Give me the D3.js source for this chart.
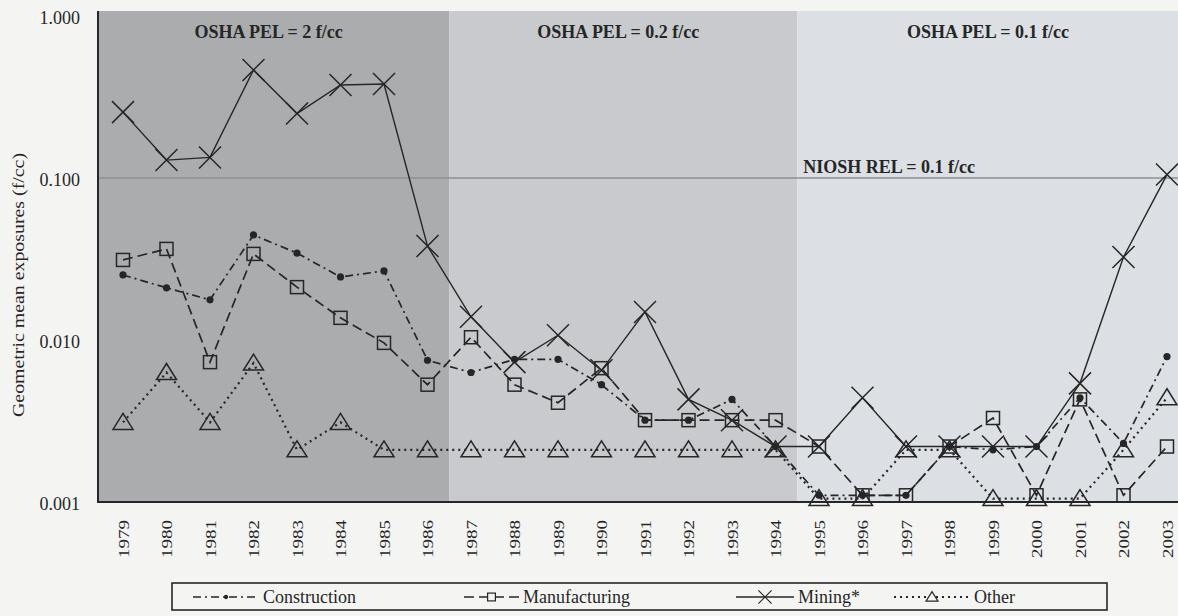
<!DOCTYPE html>
<html>
<head>
<meta charset="utf-8">
<script src="https://cdn.jsdelivr.net/npm/d3@7"></script>
<style>
  html, body { margin: 0; padding: 0; background: #f4f5f3; }
  svg { display: block; font-family: "Liberation Serif", "DejaVu Serif", serif; }
</style>
</head>
<body>
<svg id="chart" width="1178" height="616"></svg>
<script>
// data
var years = ['1979', '1980', '1981', '1982', '1983', '1984', '1985', '1986', '1987', '1988', '1989', '1990',
    '1991', '1992', '1993', '1994', '1995', '1996', '1997', '1998', '1999', '2000', '2001', '2002', '2003'];

var construction = [0.0252, 0.021, 0.0177, 0.0445, 0.0344, 0.0245, 0.0267, 0.0075, 0.0063, 0.0076, 0.0076, 0.0053,
    0.0032, 0.0032, 0.0043, 0.0022, 0.0011, 0.0011, 0.0011, 0.0022, 0.0021, 0.0022, 0.0044, 0.0023, 0.0079];
var manufacturing = [0.0312, 0.0365, 0.0073, 0.034, 0.0212, 0.0137, 0.0096, 0.0053, 0.0104, 0.0053, 0.0041, 0.0067,
    0.0032, 0.0032, 0.0032, 0.0032, 0.0022, 0.0011, 0.0011, 0.0022, 0.0033, 0.0011, 0.0043, 0.0011, 0.0022];
var mining = [0.255, 0.129, 0.134, 0.464, 0.25, 0.375, 0.38, 0.038, 0.0139, 0.0073, 0.0107, 0.0065,
    0.0149, 0.0043, 0.0032, 0.0022, 0.0022, 0.0044, 0.0022, 0.0022, 0.0022, 0.0022, 0.0054, 0.0325, 0.105];
var other = [0.0031, 0.0063, 0.0031, 0.0072, 0.0021, 0.0031, 0.0021, 0.0021, 0.0021, 0.0021, 0.0021, 0.0021,
    0.0021, 0.0021, 0.0021, 0.0021, 0.00105, 0.00105, 0.0021, 0.0021, 0.00105, 0.00105, 0.00105, 0.0021, 0.0044];

var yTicks = [0.001, 0.01, 0.1, 1];

// regulatory periods: first year, last year, label
var periods = [
    {from: '1979', to: '1986', label: 'OSHA PEL = 2 f/cc', fill: '#abacad'},
    {from: '1987', to: '1994', label: 'OSHA PEL = 0.2 f/cc', fill: '#c8cacd'},
    {from: '1995', to: '2003', label: 'OSHA PEL = 0.1 f/cc', fill: '#dce0e5'}
];
var nioshRel = 0.1;

var series = [
    {name: 'Construction', values: construction, dash: '8,4,2,4', width: 1.7, marker: 'dot'},
    {name: 'Manufacturing', values: manufacturing, dash: '10,5', width: 1.7, marker: 'square'},
    {name: 'Mining*', values: mining, dash: null, width: 1.4, marker: 'cross'},
    {name: 'Other', values: other, dash: '2,4', width: 2.2, marker: 'triangle'}
];

var ink = '#262626';
var paper = '#f4f5f3';
var serif = '"Liberation Serif", "DejaVu Serif", serif';

var svg = d3.select('#chart');
var plot = {left: 98, right: 1178, top: 11, bottom: 502};

var x = d3.scalePoint().domain(years).range([123, 1167]);
var y = d3.scaleLog().domain([0.001, 1]).range([plot.bottom, 16]);

// left/right edge of a year's slot (first slot starts at the axis)
function bandEdge(year, side) {
    var i = years.indexOf(year);
    if (side < 0) return i === 0 ? plot.left : x(year) - x.step() / 2;
    return x(year) + x.step() / 2;
}

// shaded periods
svg.selectAll('rect.period')
    .data(periods).enter().append('rect')
    .attr('class', 'period')
    .attr('x', function (d) { return bandEdge(d.from, -1); })
    .attr('y', plot.top)
    .attr('width', function (d) { return bandEdge(d.to, 1) - bandEdge(d.from, -1); })
    .attr('height', plot.bottom - plot.top)
    .attr('fill', function (d) { return d.fill; });

svg.selectAll('text.period')
    .data(periods).enter().append('text')
    .attr('class', 'period')
    .attr('x', function (d) { return (bandEdge(d.from, -1) + bandEdge(d.to, 1)) / 2 - 5; })
    .attr('y', 38)
    .attr('text-anchor', 'middle')
    .attr('font-family', serif)
    .attr('font-size', 18)
    .attr('font-weight', 'bold')
    .attr('fill', ink)
    .text(function (d) { return d.label; });

// NIOSH REL line
svg.append('line')
    .attr('x1', plot.left).attr('x2', plot.right)
    .attr('y1', y(nioshRel)).attr('y2', y(nioshRel))
    .attr('stroke', '#8d8f92').attr('stroke-width', 1.5);
svg.append('text')
    .attr('x', bandEdge('1995', -1) + 6)
    .attr('y', y(nioshRel) - 5)
    .attr('font-family', serif)
    .attr('font-size', 18)
    .attr('font-weight', 'bold')
    .attr('fill', ink)
    .text('NIOSH REL = 0.1 f/cc');

// axes
var yAxis = svg.append('g')
    .attr('transform', 'translate(' + plot.left + ',0)')
    .call(d3.axisLeft(y).tickValues(yTicks).tickFormat(d3.format('.3f')).tickSize(0).tickPadding(18));
yAxis.select('.domain').remove();
yAxis.selectAll('text')
    .attr('font-family', serif)
    .attr('font-size', 18)
    .attr('fill', ink)
    .attr('dy', '0.4em');

var xAxis = svg.append('g')
    .attr('transform', 'translate(0,' + plot.bottom + ')')
    .call(d3.axisBottom(x).tickSize(0));
xAxis.select('.domain').remove();
xAxis.selectAll('text')
    .attr('font-family', serif)
    .attr('font-size', 15)
    .attr('fill', ink)
    .attr('transform', 'rotate(-90)')
    .attr('text-anchor', 'end')
    .attr('textLength', 38)
    .attr('lengthAdjust', 'spacingAndGlyphs')
    .attr('x', -18)
    .attr('y', 0)
    .attr('dy', '0.35em');

svg.append('path')
    .attr('d', 'M' + plot.left + ',' + plot.top + 'V' + plot.bottom + 'H' + plot.right)
    .attr('fill', 'none')
    .attr('stroke', ink)
    .attr('stroke-width', 2);

svg.append('text')
    .attr('transform', 'translate(18,285) rotate(-90)')
    .attr('text-anchor', 'middle')
    .attr('dy', '0.35em')
    .attr('font-family', serif)
    .attr('font-size', 16)
    .attr('textLength', 264)
    .attr('lengthAdjust', 'spacingAndGlyphs')
    .attr('fill', ink)
    .text('Geometric mean exposures (f/cc)');

// markers
function drawMarker(g, type, cx, cy, s, sw) {
    if (type === 'dot') {
        g.append('circle').attr('cx', cx).attr('cy', cy).attr('r', 3.6 * s)
            .attr('fill', ink);
    } else if (type === 'square') {
        g.append('rect').attr('x', cx - 6.5 * s).attr('y', cy - 6.5 * s)
            .attr('width', 13 * s).attr('height', 13 * s)
            .attr('fill', s < 1 ? paper : 'none').attr('stroke', ink).attr('stroke-width', sw);
    } else if (type === 'cross') {
        var r = 11 * s;
        g.append('path')
            .attr('d', 'M' + (cx - r) + ',' + (cy - r) + 'L' + (cx + r) + ',' + (cy + r) +
                'M' + (cx - r) + ',' + (cy + r) + 'L' + (cx + r) + ',' + (cy - r))
            .attr('stroke', ink).attr('stroke-width', sw);
    } else if (type === 'triangle') {
        g.append('path')
            .attr('d', 'M' + cx + ',' + (cy - 9 * s) + 'L' + (cx + 10 * s) + ',' + (cy + 7 * s) +
                'L' + (cx - 10 * s) + ',' + (cy + 7 * s) + 'Z')
            .attr('fill', s < 1 ? paper : 'none').attr('stroke', ink).attr('stroke-width', sw);
    }
}

var line = d3.line()
    .x(function (d, i) { return x(years[i]); })
    .y(function (d) { return y(d); });

var seriesG = svg.selectAll('g.series')
    .data(series).enter().append('g')
    .attr('class', 'series');

seriesG.append('path')
    .attr('d', function (d) { return line(d.values); })
    .attr('fill', 'none')
    .attr('stroke', ink)
    .attr('stroke-width', function (d) { return d.width; })
    .attr('stroke-dasharray', function (d) { return d.dash; });

seriesG.each(function (d) {
    var g = d3.select(this);
    d.values.forEach(function (v, i) {
        drawMarker(g, d.marker, x(years[i]), y(v), 1, 1.5);
    });
});

// legend: symbol start and symbol length per entry
var legendItems = [
    {x: 193, len: 66},
    {x: 464, len: 55},
    {x: 736, len: 58},
    {x: 894, len: 76}
];
svg.append('rect')
    .attr('x', 172).attr('y', 583).attr('width', 935).attr('height', 27)
    .attr('fill', 'none').attr('stroke', ink).attr('stroke-width', 1.6);

var legendG = svg.selectAll('g.legend')
    .data(series).enter().append('g')
    .attr('class', 'legend')
    .attr('transform', function (d, i) { return 'translate(' + legendItems[i].x + ',597)'; });

legendG.append('line')
    .attr('x1', 0)
    .attr('x2', function (d, i) { return legendItems[i].len; })
    .attr('stroke', ink)
    .attr('stroke-width', function (d) { return d.width * 0.9; })
    .attr('stroke-dasharray', function (d) { return d.dash; });

legendG.each(function (d, i) {
    var g = d3.select(this);
    drawMarker(g, d.marker, legendItems[i].len / 2, 0, 0.6, 1.2);
    g.append('text')
        .attr('x', legendItems[i].len + 4)
        .attr('y', 0)
        .attr('dy', '0.35em')
        .attr('font-family', serif)
        .attr('font-size', 18)
        .attr('fill', ink)
        .text(d.name);
});
</script>
</body>
</html>
